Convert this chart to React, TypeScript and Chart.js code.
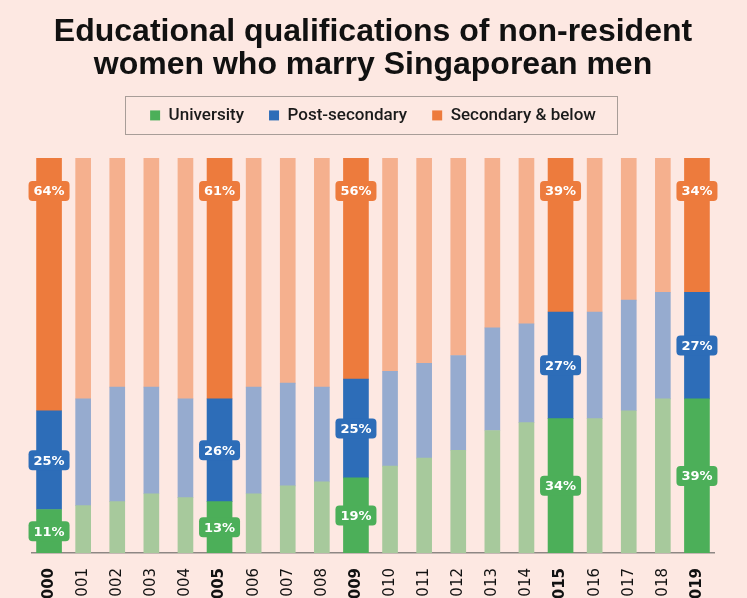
import React, { useEffect, useRef } from "react";
import { Chart, registerables } from "chart.js";
Chart.register(...registerables);

const years = [
  "2000", "2001", "2002", "2003", "2004", "2005", "2006", "2007", "2008", "2009",
  "2010", "2011", "2012", "2013", "2014", "2015", "2016", "2017", "2018", "2019",
];
const highlightedYears = ["2000", "2005", "2009", "2015", "2019"];
const university = [11, 12, 13, 15, 14, 13, 15, 17, 18, 19, 22, 24, 26, 31, 33, 34, 34, 36, 39, 39];
const postSecondary = [25, 27, 29, 27, 25, 26, 27, 26, 24, 25, 24, 24, 24, 26, 25, 27, 27, 28, 27, 27];
const secondaryBelow = [64, 61, 58, 58, 61, 61, 58, 57, 58, 56, 54, 52, 50, 43, 42, 39, 39, 36, 34, 34];
const seriesNames = ["University", "Post-secondary", "Secondary & below"];
const brightColors = ["#4caf59", "#2d6db8", "#ed7b3d"];
const fadedColors = ["#a7c99c", "#96abcf", "#f5b08e"];
const titleLines = ["Educational qualifications of non-resident", "women who marry Singaporean men"];

const BG = "#fde8e2";
const CANVAS_W = 747;
const CANVAS_H = 640;

const labelPlugin = {
  id: "valueLabels",
  afterDatasetsDraw(chart: any) {
    const ctx = chart.ctx;
    ctx.save();
    chart.data.datasets.forEach((ds: any, di: number) => {
      if (!ds.bright) return;
      const meta = chart.getDatasetMeta(di);
      meta.data.forEach((el: any, i: number) => {
        const v = ds.data[i];
        if (v === null || v === undefined) return;
        const top = Math.min(el.y, el.base);
        const bottom = Math.max(el.y, el.base);
        const cy = ds.seriesIdx === 2 ? top + 33 : (top + bottom) / 2;
        const w = 41, h = 20, r = 4;
        ctx.fillStyle = brightColors[ds.seriesIdx];
        ctx.beginPath();
        ctx.roundRect(el.x - w / 2, cy - h / 2, w, h, r);
        ctx.fill();
        ctx.fillStyle = "#ffffff";
        ctx.font = "bold 13px 'DejaVu Sans', sans-serif";
        ctx.textAlign = "center";
        ctx.textBaseline = "middle";
        ctx.fillText(v + "%", el.x, cy + 1);
      });
    });
    ctx.restore();
  },
};

const legendBoxPlugin = {
  id: "legendBox",
  afterDraw(chart: any) {
    const lg = chart.legend;
    if (!lg || !lg.legendHitBoxes || !lg.legendHitBoxes.length) return;
    const hb = lg.legendHitBoxes;
    let minL = Infinity, maxR = -Infinity;
    hb.forEach((b: any) => {
      minL = Math.min(minL, b.left);
      maxR = Math.max(maxR, b.left + b.width);
    });
    const cy = hb[0].top + hb[0].height / 2;
    const ctx = chart.ctx;
    ctx.save();
    ctx.strokeStyle = "#a89d98";
    ctx.lineWidth = 1;
    ctx.strokeRect(Math.round(minL - 25) + 0.5, Math.round(cy - 19) + 0.5, Math.round(maxR - minL + 46), 38);
    ctx.restore();
  },
};

export default function App() {
  const ref = useRef<HTMLCanvasElement | null>(null);

  useEffect(() => {
    document.body.style.margin = "0";
    document.body.style.background = BG;
    const isHi = (i: number) => highlightedYears.includes(years[i]);
    const series = [university, postSecondary, secondaryBelow];
    const datasets: any[] = [];
    series.forEach((vals, s) => {
      datasets.push({
        label: seriesNames[s],
        data: vals.map((v, i) => (isHi(i) ? v : null)),
        backgroundColor: brightColors[s],
        barThickness: 25,
        stack: "s",
        bright: true,
        seriesIdx: s,
        borderWidth: 0,
      });
      datasets.push({
        label: seriesNames[s] + " (other years)",
        data: vals.map((v, i) => (isHi(i) ? null : v)),
        backgroundColor: fadedColors[s],
        barThickness: 15,
        stack: "s",
        bright: false,
        seriesIdx: s,
        borderWidth: 0,
      });
    });

    const chart = new Chart(ref.current as HTMLCanvasElement, {
      type: "bar",
      data: { labels: years, datasets },
      options: {
        animation: false,
        responsive: false,
        layout: { padding: { left: 32, right: 33, top: 0, bottom: 0 } },
        plugins: {
          tooltip: { enabled: false },
          title: {
            display: true,
            text: titleLines,
            color: "#111111",
            font: {
              family: "'Liberation Sans Narrow', 'Liberation Sans', sans-serif",
              size: 32,
              weight: "bold",
              lineHeight: 1.03,
            },
            padding: { top: 16, bottom: 0 },
          },
          legend: {
            display: true,
            position: "top",
            labels: {
              color: "#1a1a1a",
              boxWidth: 10,
              boxHeight: 10,
              padding: 25,
              font: { family: "Roboto, 'Liberation Sans', sans-serif", size: 17, weight: "500" },
              generateLabels: (c: any) =>
                c.data.datasets
                  .map((ds: any, i: number) => ({ ds, i }))
                  .filter((o: any) => o.ds.bright)
                  .map((o: any) => ({
                    text: o.ds.label,
                    fillStyle: brightColors[o.ds.seriesIdx],
                    strokeStyle: brightColors[o.ds.seriesIdx],
                    lineWidth: 0,
                    hidden: false,
                    datasetIndex: o.i,
                    fontColor: "#1a1a1a",
                  })),
            },
          },
        },
        scales: {
          x: {
            stacked: true,
            position: "bottom",
            grid: { display: false, drawTicks: false },
            border: { display: true, color: "#8e8784", width: 1.5 },
            ticks: {
              autoSkip: false,
              minRotation: 90,
              maxRotation: 90,
              padding: 15,
              color: "#111111",
              font: (ctx: any) => ({
                family: "'DejaVu Sans', sans-serif",
                size: 15,
                weight: isHi(ctx.index) ? "bold" : "normal",
              }),
            },
            afterFit: (s: any) => {
              s.height = CANVAS_H - 553;
            },
          },
          xTop: {
            type: "category",
            position: "top",
            display: true,
            grid: { display: false },
            border: { display: false },
            ticks: { display: false },
            afterFit: (s: any) => {
              s.height = 24;
            },
          },
          y: {
            stacked: true,
            display: false,
            min: 0,
            max: 100,
          },
        },
      } as any,
      plugins: [labelPlugin, legendBoxPlugin],
    });
    return () => chart.destroy();
  }, []);

  return (
    <div
      style={{
        position: "fixed",
        top: 0,
        left: 0,
        width: 747,
        height: 598,
        overflow: "hidden",
        background: BG,
      }}
    >
      <canvas ref={ref} width={CANVAS_W} height={CANVAS_H} style={{ width: CANVAS_W, height: CANVAS_H, display: "block" }} />
    </div>
  );
}
